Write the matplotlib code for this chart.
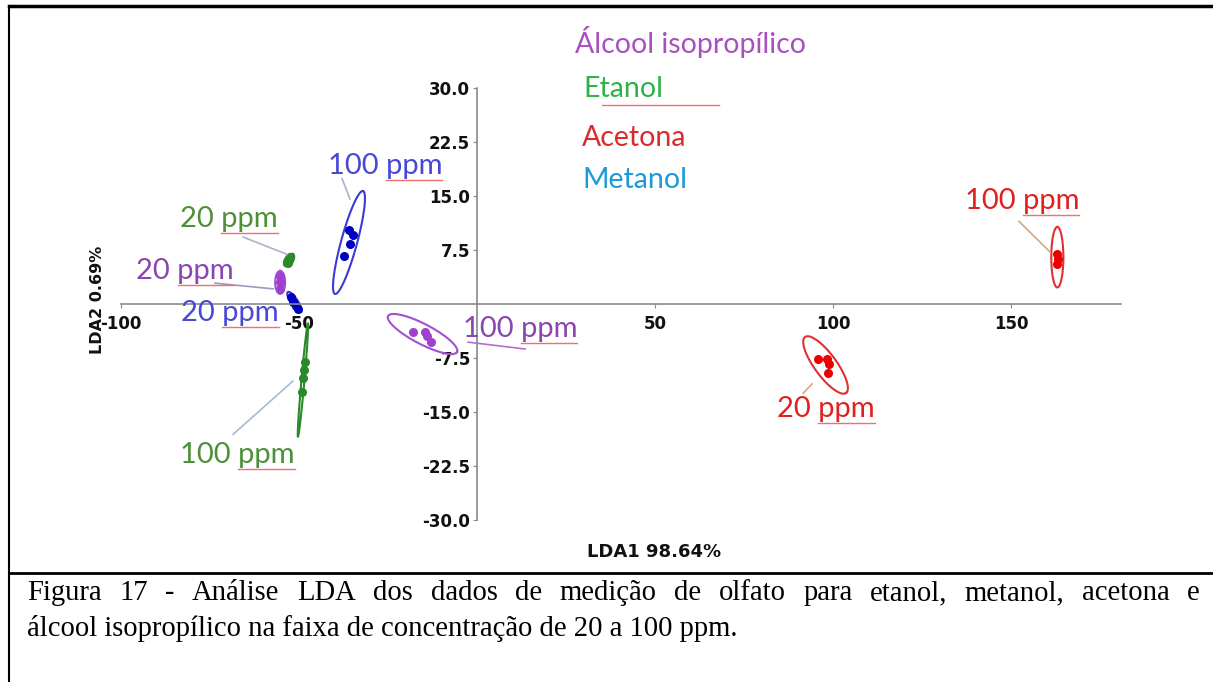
import numpy as np
import matplotlib.pyplot as plt
from matplotlib.lines import Line2D

# groups: (compound, ppm)
groups = ['Metanol 100', 'Metanol 20', 'Etanol 20', 'Alcool 20',
          'Etanol 100', 'Alcool 100', 'Acetona 20', 'Acetona 100']
ppm_text = ['100 ppm', '20 ppm', '20 ppm', '20 ppm',
            '100 ppm', '100 ppm', '20 ppm', '100 ppm']
compound = ['Metanol', 'Metanol', 'Etanol', 'Alcool',
            'Etanol', 'Alcool', 'Acetona', 'Acetona']

# LDA scores
pts_x = [[-36.0, -34.8, -35.7, -37.4],
         [-52.2, -51.7, -50.8, -50.3],
         [-53.2, -52.8, -52.4],
         [-55.3, -55.3, -55.3],
         [-48.3, -48.6, -48.9, -49.2],
         [-18.0, -14.6, -14.0, -12.9],
         [95.9, 98.4, 99.0, 98.7],
         [162.9, 163.1, 162.9]]
pts_y = [[10.3, 9.6, 8.3, 6.6],
         [0.97, 0.3, -0.3, -0.7],
         [5.7, 6.1, 6.5],
         [3.9, 3.0, 2.1],
         [-8.1, -9.2, -10.3, -12.2],
         [-3.9, -3.9, -4.4, -5.3],
         [-7.7, -7.6, -8.3, -9.6],
         [7.0, 6.3, 5.5]]

# confidence ellipses: centre, semi-major vector, semi-minor vector (data units)
ell_c = [(-35.96, 8.54), (-51.3, 0.28), (-52.8, 6.1), (-55.3, 3.0),
         (-48.9, -10.6), (-15.3, -4.17), (97.9, -8.47), (163.0, 6.5)]
ell_major = [(3.93, 7.15), (1.83, -1.39), (1.12, 0.83), (0.0, 1.6),
             (1.40, 7.85), (9.69, -2.5), (5.76, -3.89), (0.0, 4.2)]
ell_minor = [(2.17, -0.29), (0.83, 0.26), (0.93, -0.31), (1.4, 0.0),
             (0.42, -0.02), (-1.3, -1.23), (-2.5, -0.9), (1.7, 0.0)]

# label positions and leader lines
lab_x = [-25.8, -69.4, -69.7, -82.0, -67.3, 12.1, 98.0, 153.1]
lab_y = [19.2, -1.2, 11.8, 4.6, -21.0, -3.5, -14.6, 14.3]
lead_x = [(-37.9, -35.7), None, (-65.7, -53.4), (-73.6, -57.3),
          (-68.5, -51.7), (-2.5, 13.5), (94.1, 91.6), (152.2, 161.0)]
lead_y = [(17.4, 14.6), None, (9.3, 6.9), (2.9, 2.1),
          (-18.1, -10.7), (-5.3, -6.25), (-11.1, -12.4), (11.5, 7.2)]
lead_col = ['#a8b4cc', None, '#a8b4cc', '#9a9ac4', '#a8b8d8', '#b070d0',
            '#d8a880', '#d8a878']

point_col = {'Metanol': '#0000c0', 'Etanol': '#2a8a2a', 'Alcool': '#a040d0', 'Acetona': '#ee0000'}
ell_col = {'Metanol': '#3a3ad8', 'Etanol': '#2a8a2a', 'Alcool': '#a050d0', 'Acetona': '#e03030'}
text_col = {'Metanol': '#4848d8', 'Etanol': '#4e8f3a', 'Alcool': '#8a45b0', 'Acetona': '#e02020'}

legend_names = ['Álcool isopropílico', 'Etanol', 'Acetona', 'Metanol']
legend_cols = ['#a94fbf', '#2db34a', '#dc2a2a', '#1a9ad8']
legend_x = [27.5, 30.0, 29.5, 29.5]
legend_y = [36.4, 29.9, 23.1, 17.2]

xticks = [-100, -50, 50, 100, 150]
yticks = [-30, -22.5, -15, -7.5, 7.5, 15, 22.5, 30]

caption = ['Figura 17 - Análise LDA dos dados de medição de olfato para etanol, metanol, acetona e',
           'álcool isopropílico na faixa de concentração de 20 a 100 ppm.']

W, H = 1213, 682
fig = plt.figure(figsize=(W / 100, H / 100), dpi=100)
ax = fig.add_axes([121 / W, 162 / H, 1000.4 / W, 432 / H])
ax.set_xlim(-100, 181)
ax.set_ylim(-30, 30)

for s in ['top', 'right']:
    ax.spines[s].set_visible(False)
ax.spines['left'].set_position(('data', 0))
ax.spines['bottom'].set_position(('data', 0))
for s in ['left', 'bottom']:
    ax.spines[s].set_color('#8a8a8a')
    ax.spines[s].set_linewidth(1.2)

ax.set_xticks(xticks)
ax.set_xticklabels([str(v) for v in xticks])
ax.set_yticks(yticks)
ax.set_yticklabels(['%.1f' % v for v in yticks])
ax.tick_params(axis='x', colors='#8a8a8a', length=3, pad=5, labelcolor='#111111')
ax.tick_params(axis='y', colors='#8a8a8a', length=3, pad=2, labelcolor='#111111')
for lbl in ax.get_xticklabels() + ax.get_yticklabels():
    lbl.set_fontweight('bold')
    lbl.set_fontsize(12)

t = np.linspace(0, 2 * np.pi, 200)
for i in range(len(groups)):
    c = compound[i]
    cx, cy = ell_c[i]
    mx, my = ell_major[i]
    nx, ny = ell_minor[i]
    ax.plot(cx + mx * np.cos(t) + nx * np.sin(t), cy + my * np.cos(t) + ny * np.sin(t),
            color=ell_col[c], lw=1.5)
    ax.plot(pts_x[i], pts_y[i], 'o', color=point_col[c], ms=6.5, mec='none')
    if lead_x[i] is not None:
        ax.plot(lead_x[i], lead_y[i], color=lead_col[i], lw=1.2)

LAB_FS = 21
# ppm labels (Word text boxes in the original)
labels = []
for i in range(len(groups)):
    tx = ax.text(lab_x[i], lab_y[i], ppm_text[i], color=text_col[compound[i]],
                 fontsize=LAB_FS, family='Lato', ha='center', va='center')
    labels.append(tx)

leg = []
for name, col, x, y in zip(legend_names, legend_cols, legend_x, legend_y):
    leg.append(ax.text(x, y, name, color=col, fontsize=20.5, family='Lato',
                       ha='left', va='center', clip_on=False))

fig.text(654 / W, 1 - 552 / H, 'LDA1 98.64%', fontsize=13, fontweight='bold',
         ha='center', va='center', color='#111111')
fig.text(98 / W, 1 - 300 / H, 'LDA2 0.69%', fontsize=11.5, fontweight='bold',
         ha='center', va='center', rotation=90, color='#111111')

# frame lines of the document table
fig.add_artist(Line2D([9 / W, 1], [1 - 6 / H, 1 - 6 / H], color='black', lw=2.5))
fig.add_artist(Line2D([9 / W, 1], [1 - 573 / H, 1 - 573 / H], color='black', lw=2))
fig.add_artist(Line2D([9 / W, 9 / W], [0, 1 - 6 / H], color='black', lw=1.5))

fig.canvas.draw()
r = fig.canvas.get_renderer()

# caption: first line justified between the margins, second line left aligned
CAP_FS = 20.6
left_px, right_px = 27, 1200
words = caption[0].split(' ')
widths = []
for w in words:
    tmp = fig.text(0, 0, w, family='Liberation Serif', fontsize=CAP_FS)
    widths.append(tmp.get_window_extent(r).width)
    tmp.remove()
gap = (right_px - left_px - sum(widths)) / (len(words) - 1)
xpos = left_px
for w, wd in zip(words, widths):
    fig.text(xpos / W, 1 - 600 / H, w, family='Liberation Serif', fontsize=CAP_FS,
             va='baseline', ha='left')
    xpos += wd + gap
fig.text(left_px / W, 1 - 636 / H, caption[1], family='Liberation Serif', fontsize=CAP_FS,
         va='baseline', ha='left')

# red spell-check underlines under "ppm" and under Etanol
for tx in labels:
    bb = tx.get_window_extent(r)
    prefix = tx.get_text().split(' ')[0] + ' '
    tmp = ax.text(0, 0, prefix, fontsize=LAB_FS, family='Lato')
    pw = tmp.get_window_extent(r).width
    tmp.remove()
    x0 = (bb.x0 + pw) / W
    x1 = bb.x1 / W
    y0 = (bb.y0 - 1) / H
    fig.add_artist(Line2D([x0, x1], [y0, y0], color='#f07070', lw=1))
bb = leg[1].get_window_extent(r)
fig.add_artist(Line2D([(bb.x0 + 18) / W, (bb.x1 + 55) / W], [(bb.y0 - 3) / H] * 2,
                      color='#f07070', lw=1))

fig.savefig('out.png', dpi=100)
